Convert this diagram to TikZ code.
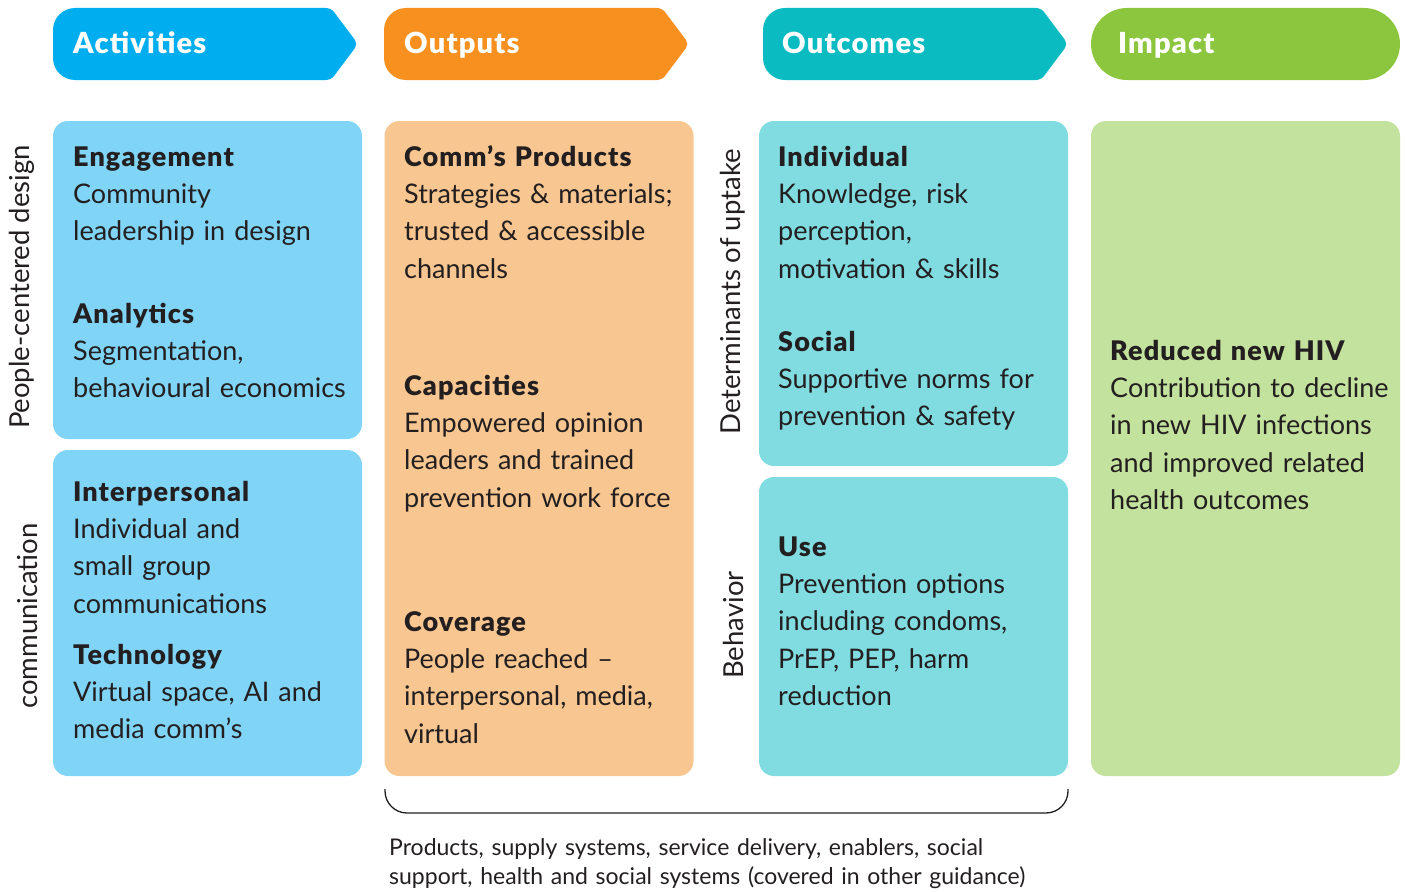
\documentclass[tikz,border=0pt]{standalone}
\usepackage{fontspec}
\setmainfont{Lato}
\newfontfamily\heavy[LetterSpace=4]{Lato Black}
\definecolor{actH}{HTML}{00AEEF}
\definecolor{actB}{HTML}{80D4F6}
\definecolor{outH}{HTML}{F7901E}
\definecolor{outB}{HTML}{F8C690}
\definecolor{ocH}{HTML}{0ABBC2}
\definecolor{ocB}{HTML}{80DCE0}
\definecolor{impH}{HTML}{8CC63F}
\definecolor{impB}{HTML}{C3E29E}
\definecolor{ink}{HTML}{231F20}
\newcommand{\hd}[1]{{\heavy #1}}
\begin{document}
\begin{tikzpicture}[x=1pt,y=-1pt,
  box/.style={rectangle, rounded corners=15pt, draw=none, inner sep=0pt, minimum width=309pt},
  hdr/.style={anchor=base west, inner sep=0pt, text=white, font=\fontsize{29}{30}\selectfont\heavy},
  txt/.style={anchor=base west, inner sep=0pt, text width=320pt, align=left, text=ink, font=\fontsize{27}{37.4}\selectfont},
  side/.style={rotate=90, inner sep=0pt, text=ink, font=\fontsize{27.5}{30}\selectfont},
  note/.style={anchor=base west, inner sep=0pt, text width=750pt, align=left, text=ink, font=\fontsize{23}{29}\selectfont}]
\useasboundingbox (0,0) rectangle (1407,891);
% header shapes
\fill[actH] (200,8) [rounded corners=5pt] -- (331,8) -- (358,44) -- (331,80) [rounded corners=22pt] -- (53,80) -- (53,8) -- cycle;
\fill[outH] (530,8) [rounded corners=5pt] -- (662,8) -- (689,44) -- (662,80) [rounded corners=22pt] -- (384,80) -- (384,8) -- cycle;
\fill[ocH] (900,8) [rounded corners=5pt] -- (1041,8) -- (1068,44) -- (1041,80) [rounded corners=22pt] -- (763,80) -- (763,8) -- cycle;
\fill[impH, rounded corners=36pt] (1091,8) rectangle (1400,80);
\node[hdr] (hAct) at (73,54) {Activities};
\node[hdr] (hOut) at (404,54) {Outputs};
\node[hdr] (hOc) at (782,54) {Outcomes};
\node[hdr] (hImp) at (1118,54) {Impact};
% boxes
\node[box, fill=actB, minimum height=318pt] (b1) at (207.5,280) {};
\node[box, fill=actB, minimum height=326pt] (b2) at (207.5,613) {};
\node[box, fill=outB, minimum height=655pt] (b3) at (539,448.5) {};
\node[box, fill=ocB, minimum height=345pt] (b4) at (913.5,293.5) {};
\node[box, fill=ocB, minimum height=299pt] (b5) at (913.5,626.5) {};
\node[box, fill=impB, minimum height=655pt] (b6) at (1245.5,448.5) {};
% side labels
\node[side] (sPCD) at (22,287) {People-centered design};
\node[side] (sCom) at (28,616) {communication};
\node[side] (sDet) at (733,292) {Determinants of uptake};
\node[side] (sBeh) at (733,625) {Behavior};
% texts
\node[txt] (tEng) at (73,166) {\hd{Engagement}\\Community\\leadership in design};
\node[txt] (tAna) at (73,323) {\hd{Analytics}\\Segmentation,\\behavioural economics};
\node[txt] (tInt) at (73,501) {\hd{Interpersonal}\\Individual and\\small group\\communications};
\node[txt] (tTec) at (73,664) {\hd{Technology}\\Virtual space, AI and\\media comm’s};
\node[txt] (tCom) at (404,166) {\hd{Comm’s Products}\\Strategies \& materials;\\trusted \& accessible\\channels};
\node[txt] (tCap) at (404,395) {\hd{Capacities}\\Empowered opinion\\leaders and trained\\prevention work force};
\node[txt] (tCov) at (404,631) {\hd{Coverage}\\People reached –\\interpersonal, media,\\virtual};
\node[txt] (tInd) at (778,166) {\hd{Individual}\\Knowledge, risk\\perception,\\motivation \& skills};
\node[txt] (tSoc) at (778,351) {\hd{Social}\\Supportive norms for\\prevention \& safety};
\node[txt] (tUse) at (778,556) {\hd{Use}\\Prevention options\\including condoms,\\PrEP, PEP, harm\\reduction};
\node[txt] (tRed) at (1110,360) {\hd{Reduced new HIV}\\Contribution to decline\\in new HIV infections\\and improved related\\health outcomes};
% brace
\coordinate (brL) at (385,789);
\coordinate (brR) at (1068,789);
\draw[ink, line width=1.3pt, rounded corners=22pt] (brL) -- (385,813) -- (1068,813) -- (brR);
\node[note] (nProd) at (389,855) {Products, supply systems, service delivery, enablers, social\\support, health and social systems (covered in other guidance)};
\end{tikzpicture}
\end{document}
